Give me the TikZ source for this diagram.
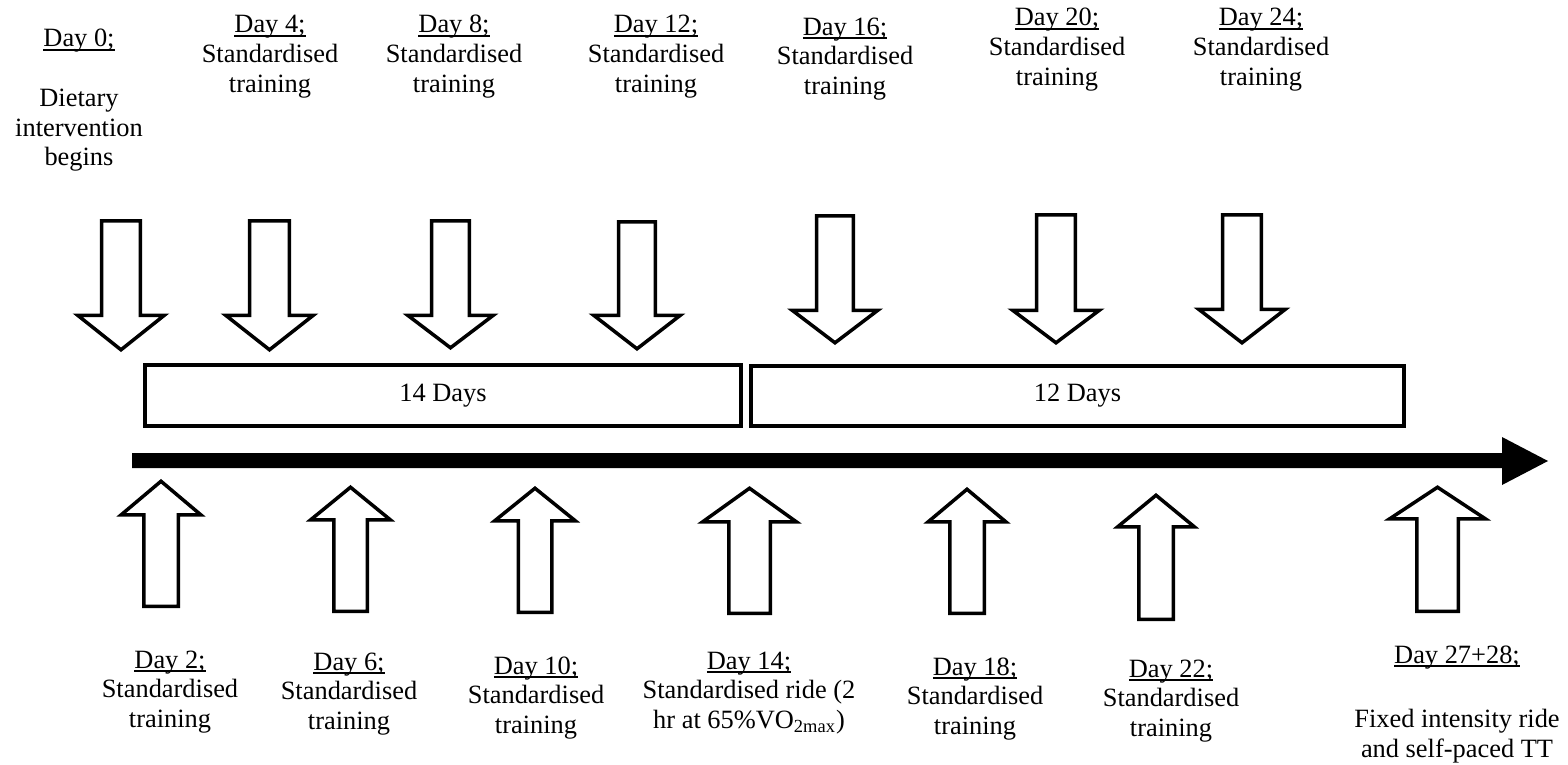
\documentclass[tikz,border=0pt]{standalone}
\usepackage{fontspec}
\setmainfont{Liberation Serif}
% underlined day heading with the rule close to the baseline
\newcommand\daytag[1]{\setbox0\hbox{#1}\rlap{\rule[-1.9pt]{\wd0}{0.7pt}}\box0}
% hollow block arrow: centre x, shaft half width, head half width, tail y, head base y, tip y
\newcommand\hollowarrow[6]{%
  \draw[hollow] ({#1-#2},#4) -- ({#1+#2},#4) -- ({#1+#2},#5) -- ({#1+#3},#5)
    -- (#1,#6) -- ({#1-#3},#5) -- ({#1-#2},#5) -- cycle;}
\begin{document}
\begin{tikzpicture}[x=0.5pt,y=-0.5pt,
  % labels are placed by the baseline of their last line
  label/.style={align=center, anchor=base, inner sep=0pt,
    font=\fontsize{13.2}{14.8}\selectfont},
  hollow/.style={draw=black, fill=white, line width=1.75pt, miter limit=10},
  period/.style={draw=black, fill=white, line width=2.25pt, inner sep=0pt,
    font=\fontsize{13.2}{14.8}\selectfont}]
\useasboundingbox (0,0) rectangle (1568,765);

% time line
\fill[black] (132,453) -- (1502,453) -- (1502,437) -- (1548,461) -- (1502,485)
  -- (1502,468) -- (132,468) -- cycle;

% the two periods
\node[period, minimum width=298pt, minimum height=30.5pt] (p14) at (443,395.5) {14 Days};
\node[period, minimum width=326.5pt, minimum height=30pt] (p12) at (1077.5,396) {12 Days};

% arrows from above
\hollowarrow{121}{19.3}{43.3}{220.8}{315.3}{349.8}
\hollowarrow{269.5}{19.8}{43.8}{220.8}{315.3}{349.8}
\hollowarrow{450.5}{18.8}{42.8}{220.8}{315.3}{347.8}
\hollowarrow{637}{18.3}{43.3}{221.8}{315.3}{348.8}
\hollowarrow{835}{18.3}{42.8}{215.8}{310.3}{342.8}
\hollowarrow{1056}{19.3}{43.3}{214.8}{310.3}{342.8}
\hollowarrow{1242}{19.3}{43.3}{214.8}{309.3}{342.8}

% arrows from below
\hollowarrow{161}{17.25}{39.75}{606.25}{514.75}{481.25}
\hollowarrow{350.5}{16.75}{39.75}{611.25}{519.75}{487.25}
\hollowarrow{535}{16.75}{40.25}{612.25}{520.75}{488.25}
\hollowarrow{749.5}{20.75}{46.75}{613.25}{521.75}{488.25}
\hollowarrow{967}{17.25}{38.75}{613.25}{521.75}{489.25}
\hollowarrow{1156}{17.25}{38.25}{619.25}{526.75}{495.25}
\hollowarrow{1437.5}{20.75}{47.75}{611.25}{518.75}{487.25}

% labels above the time line
\node[label] (d0) at (79,165.8) {\daytag{Day 0;}\\[15pt] Dietary\\ intervention\\ begins};
\node[label] (d4) at (270,92.2) {\daytag{Day 4;}\\ Standardised\\ training};
\node[label] (d8) at (454,92.2) {\daytag{Day 8;}\\ Standardised\\ training};
\node[label] (d12) at (656,92.2) {\daytag{Day 12;}\\ Standardised\\ training};
\node[label] (d16) at (845,94.2) {\daytag{Day 16;}\\ Standardised\\ training};
\node[label] (d20) at (1057,85.2) {\daytag{Day 20;}\\ Standardised\\ training};
\node[label] (d24) at (1261,85.2) {\daytag{Day 24;}\\ Standardised\\ training};

% labels below the time line
\node[label] (d2) at (170,727.2) {\daytag{Day 2;}\\ Standardised\\ training};
\node[label] (d6) at (349,729.2) {\daytag{Day 6;}\\ Standardised\\ training};
\node[label] (d10) at (536,733.2) {\daytag{Day 10;}\\ Standardised\\ training};
\node[label] (d14) at (749,728.2) {\daytag{Day 14;}\\ Standardised ride (2\\ hr at 65\%VO\textsubscript{2max})};
\node[label] (d18) at (975,734.2) {\daytag{Day 18;}\\ Standardised\\ training};
\node[label] (d22) at (1171,736.2) {\daytag{Day 22;}\\ Standardised\\ training};
\node[label] (d27) at (1457,757.2) {\daytag{Day 27+28;}\\[17.5pt] Fixed intensity ride\\ and self-paced TT};
\end{tikzpicture}
\end{document}
